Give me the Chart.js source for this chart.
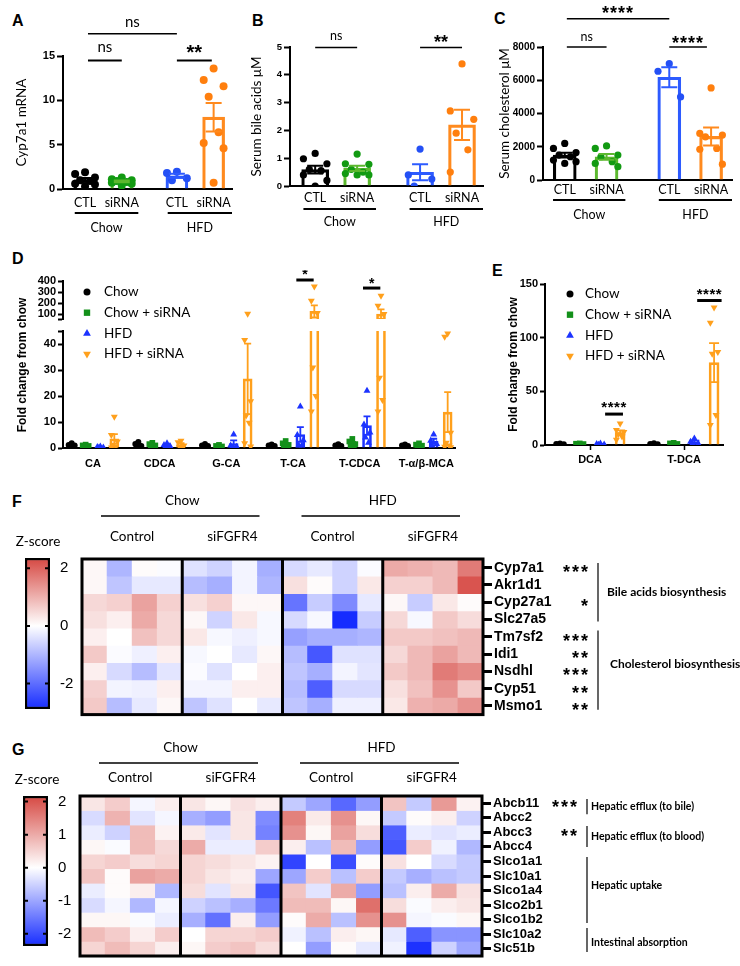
<!DOCTYPE html>
<html>
<head>
<meta charset="utf-8">
<script src="https://cdn.jsdelivr.net/npm/chart.js@4.4.0/dist/chart.umd.min.js"></script>
<style>
  body { margin: 0; background: #fff; width: 740px; height: 966px; position: relative; overflow: hidden; }
  canvas { position: absolute; }
  .pl { position: absolute; font: bold 16px "Liberation Sans", Arial, sans-serif; line-height: 16px; color: #000; }
</style>
</head>
<body>
<div class="pl" style="left:12px;top:13px">A</div>
<div class="pl" style="left:252px;top:13px">B</div>
<div class="pl" style="left:494px;top:11px">C</div>
<div class="pl" style="left:12px;top:251px">D</div>
<div class="pl" style="left:492px;top:263px">E</div>
<div class="pl" style="left:12px;top:494px">F</div>
<div class="pl" style="left:12px;top:742px">G</div>

<canvas id="cA" width="240" height="240" style="left:0;top:0"></canvas>
<canvas id="cB" width="250" height="240" style="left:240px;top:0"></canvas>
<canvas id="cC" width="260" height="240" style="left:480px;top:0"></canvas>
<canvas id="cDlow" width="480" height="210" style="left:0;top:270px"></canvas>
<canvas id="cDup" width="480" height="60" style="left:0;top:270px"></canvas>
<canvas id="cE" width="250" height="210" style="left:490px;top:270px"></canvas>
<canvas id="cF" width="740" height="245" style="left:0;top:480px"></canvas>
<canvas id="cFbar" width="90" height="200" style="left:0;top:528px"></canvas>
<canvas id="cG" width="740" height="241" style="left:0;top:725px"></canvas>
<canvas id="cGbar" width="90" height="200" style="left:0;top:765px"></canvas>

<script>
// Panels A-C: Gruppen und Einzelwerte
const treatLabels = ['CTL', 'siRNA', 'CTL', 'siRNA'];
const dietLabels = ['Chow', 'HFD'];
const cyp7a1 = [
  [1.9, 1.7, 1.3, 1.0, 0.9, 0.6, 0.5, 0.3],
  [1.3, 1.1, 1.0, 0.9, 0.8, 0.7, 0.6, 0.4],
  [1.95, 1.8, 1.2, 1.0],
  [13.6, 12.3, 11.6, 10.4, 6.4, 5.2, 4.6, 0.7]
];
const bileAcids = [
  [1.17, 0.98, 0.8, 0.6, 0.55, 0.4, 0.2, 0.0],
  [1.15, 0.8, 0.78, 0.6, 0.5, 0.45, 0.4, 0.4],
  [1.33, 0.4, 0.25, 0.0],
  [4.39, 2.7, 2.4, 1.9, 1.3, 0.5]
];
const cholesterol = [
  [2200, 1900, 1650, 1500, 1400, 1200, 1100, 1000],
  [2050, 1900, 1500, 1400, 1100, 1000, 800],
  [7000, 6540, 5000],
  [5540, 2800, 2700, 2600, 1900, 1850, 950]
];

// Panels D-E: Gallensäuren
const seriesNames = ['Chow', 'Chow + siRNA', 'HFD', 'HFD + siRNA'];
const baCategories = ['CA', 'CDCA', 'G-CA', 'T-CA', 'T-CDCA', 'T-α/β-MCA'];
const dChow = [[1.8, 1.2, 1.0, 0.6, 0.4], [2.3, 1.5, 0.8, 0.5, 0.3], [1.5, 1.0, 0.8, 0.6], [1.3, 1.0, 0.8, 0.6], [1.4, 1.0, 0.8, 0.6], [1.3, 1.0, 0.8, 0.7]];
const dChowSi = [[1.3, 1.0, 0.8, 0.7], [2.0, 1.5, 1.0, 0.8], [1.2, 0.8, 0.6, 0.4], [2.7, 1.8, 1.2, 0.6, 0.3], [3.5, 2.5, 1.5, 0.8, 0.4], [1.8, 1.3, 0.9, 0.6]];
const dHfd = [[0.6, 0.4, 0.2, 0.1], [1.8, 1.2, 0.8, 0.5], [5.2, 1.0, 0.5, 0.2], [16, 5, 3, 1, 1], [22, 9, 6, 4, 2], [5.2, 2.8, 1.5, 1.0]];
const dHfdSi = [[12, 5, 2.5, 1, 0.5, 0.2], [2.8, 2.2, 1, 0.5, 0.3], [102, 41.5, 18, 12.5, 9.7, 1.8, 0.6], [350, 220, 110, 31, 20, 14], [265, 175, 100, 27, 18.5, 14], [44, 42.8, 5.9, 2, 1, 0.5, 0.3]];
const secCategories = ['DCA', 'T-DCA'];
const eChow = [[1.5, 1.0, 0.8, 0.5], [1.6, 1.0, 0.7, 0.5]];
const eChowSi = [[1.5, 1.2, 0.9, 0.6], [2.0, 1.5, 1.0, 0.6]];
const eHfd = [[1.5, 0.9, 0.5, 0.3], [6, 3, 1.5, 1]];
const eHfdSi = [[20, 14, 12, 10, 8, 5], [128, 114, 86.6, 85, 28, 18.6]];

// Panels F-G: Heatmaps (Z-Scores)
const treatGroups = ['Control', 'siFGFR4'];
const fGenes = ['Cyp7a1', 'Akr1d1', 'Cyp27a1', 'Slc27a5', 'Tm7sf2', 'Idi1', 'Nsdhl', 'Cyp51', 'Msmo1'];
const fStars = ['***', '', '*', '', '***', '**', '***', '**', '**'];
const fPathways = ['Bile acids biosynthesis', 'Cholesterol biosynthesis'];
const fZ = [
  [0.1, -1.0, 0.05, -0.05, -0.4, -0.6, -0.15, -1.1, -0.5, -0.3, -0.6, -0.05, 1.1, 1.0, 0.9, 1.7],
  [0.1, -0.8, -0.3, -0.3, -0.9, -1.1, -0.15, -1.0, 0.4, 0.05, -0.6, 0.3, 0.6, 0.6, 0.9, 2.2],
  [0.5, 0.6, 1.2, 0.6, 0.4, 0.6, 0.1, 0.1, -1.9, -0.7, -1.6, -0.3, 0.1, -0.7, 0.3, 0.05],
  [0.4, 0.2, 1.1, 0.5, 0.1, -0.6, 0.3, -0.1, -0.5, -0.1, -2.9, -0.7, 0.5, -0.1, 0.7, 0.45],
  [0.2, 0.0, 0.8, 0.5, 0.3, -0.1, -0.2, -0.1, -1.3, -1.1, -1.1, -1.0, 0.7, 0.7, 0.8, 0.9],
  [0.7, -0.05, -0.2, 0.2, -0.1, 0.0, -0.3, 0.1, -0.9, -2.3, -0.4, -0.4, 0.5, 0.9, 1.2, 0.9],
  [0.2, -0.5, -0.9, -0.35, -0.05, -0.4, 0.0, 0.2, -0.8, -1.1, -0.15, -0.35, 0.7, 0.9, 1.7, 1.5],
  [0.6, -0.15, -0.2, 0.2, -0.15, -0.15, 0.2, 0.2, -0.9, -2.2, -0.5, -0.5, 0.4, 0.8, 1.4, 0.7],
  [0.7, -0.9, -0.3, 0.1, -0.8, -0.4, 0.0, -0.3, -0.8, -1.1, -0.2, -0.2, 0.3, 1.0, 1.1, 1.4]
];
const fRange = [-2.89, 2.36];
const fBarTicks = [2, 0, -2];
const gGenes = ['Abcb11', 'Abcc2', 'Abcc3', 'Abcc4', 'Slco1a1', 'Slc10a1', 'Slco1a4', 'Slco2b1', 'Slco1b2', 'Slc10a2', 'Slc51b'];
const gStars = ['***', '', '**', '', '', '', '', '', '', '', ''];
const gPathways = ['Hepatic efflux (to bile)', 'Hepatic efflux (to blood)', 'Hepatic uptake', 'Intestinal absorption'];
const gZ = [
  [0.3, 0.6, -0.1, 0.2, 0.3, 0.1, 0.35, 0.2, -0.6, -1.0, -1.7, -1.1, 0.7, -0.6, 1.2, 0.15],
  [-0.4, 0.9, -0.3, -0.1, -0.9, -1.1, 0.3, -1.3, 1.5, 0.25, 1.3, 0.1, -0.6, 0.05, 0.2, -0.5],
  [-0.2, -0.5, 0.8, 0.15, 0.25, -0.3, 0.3, -1.4, 1.3, 0.1, 1.1, 0.4, -1.8, -0.2, -0.3, -0.2],
  [0.1, -0.05, 0.8, 0.45, 1.0, -0.2, -0.2, 0.6, 0.2, -0.7, 0.8, -1.1, -1.9, 0.6, -0.15, -0.8],
  [0.5, 0.6, 0.4, 0.5, 0.5, 0.4, 0.3, 0.15, -2.1, 0.0, -2.0, 0.05, 0.35, 0.0, -0.4, -0.6],
  [0.7, 0.05, 1.1, 1.0, 0.5, 0.3, 0.2, -1.0, -1.0, 0.6, -0.7, 0.6, -0.6, -0.9, -0.7, -0.6],
  [-0.2, 0.05, 0.2, -0.8, 0.4, -0.3, 0.3, -1.9, 0.7, -0.3, 1.0, -1.1, -0.7, 0.2, 1.0, 0.35],
  [-0.4, -0.1, -0.8, -0.1, -0.5, -0.7, -0.9, -1.5, 0.8, 0.8, 0.1, 1.7, 0.4, -0.05, 0.2, 0.3],
  [0.1, 0.1, -0.05, -0.2, -0.9, -1.6, 0.2, -1.1, 0.05, 1.0, -0.7, 1.3, 1.3, -0.1, -0.05, 0.1],
  [0.8, 0.6, 0.2, 0.6, 0.0, 0.5, 0.5, 0.6, -0.15, -0.7, 0.2, 0.1, -0.25, -1.8, -1.2, -1.2],
  [0.5, 0.8, 0.5, 0.2, 0.1, 0.6, 0.7, 0.4, 0.0, -1.1, 0.05, -0.25, -0.15, -2.3, -0.5, -1.0]
];
const gRange = [-2.37, 2.17];
const gBarTicks = [2, 1, 0, -1, -2];

// Farben und Formen
const dotColors = ['#000000', '#129a12', '#2450f5', '#ff7f0e'];
const barEdges = ['#000000', '#5cb82e', '#2d5bff', '#ff8a1e'];
const seriesColors = ['#000000', '#13901a', '#1c33ff', '#ffa01c'];
const seriesShapes = ['circle', 'rect', 'triangle', 'triangle'];
const seriesRot = [0, 0, 0, 180];
const seriesRadius = [3.5, 4.5, 4.5, 4.5];

const LATO = 'Lato, "Open Sans", sans-serif';
const ARIAL = '"Liberation Sans", Arial, sans-serif';
Chart.defaults.color = '#000';
Chart.defaults.font.family = LATO;

const mean = a => a.reduce((s, v) => s + v, 0) / a.length;
const sem = a => { const m = mean(a); return Math.sqrt(a.reduce((s, v) => s + (v - m) ** 2, 0) / (a.length - 1) / a.length); };
const jitterPattern = [0, -1, 1, -0.5, 0.5, -1, 1, 0];
const jit = i => jitterPattern[i % jitterPattern.length];

// Fehlerbalken (SEM) über die Skalen der Charts
const errorBars = {
  id: 'errorBars',
  afterDatasetsDraw(chart, args, o) {
    const { ctx, chartArea: a, scales: { x, y } } = chart;
    ctx.save();
    ctx.beginPath(); ctx.rect(a.left - 10, a.top, a.right - a.left + 20, a.bottom - a.top); ctx.clip();
    chart.data.datasets.forEach(ds => {
      if (!ds.sem) return;
      ds.data.forEach((d, i) => {
        const col = Array.isArray(ds.borderColor) ? ds.borderColor[i] : ds.borderColor;
        const px = x.getPixelForValue(d.x);
        const top = y.getPixelForValue(d.y + ds.sem[i]);
        const bot = y.getPixelForValue(d.y - ds.sem[i]);
        ctx.strokeStyle = col; ctx.lineWidth = o.lw;
        ctx.beginPath();
        ctx.moveTo(px, top); ctx.lineTo(px, bot);
        ctx.moveTo(px - o.cap, top); ctx.lineTo(px + o.cap, top);
        ctx.moveTo(px - o.cap, bot); ctx.lineTo(px + o.cap, bot);
        ctx.stroke();
      });
    });
    ctx.restore();
  }
};

// Signifikanz-Linien mit Text
const sigMarks = {
  id: 'sigMarks',
  afterDraw(chart, args, o) {
    const { ctx, scales: { x, y } } = chart;
    ctx.save();
    (o.marks || []).forEach(m => {
      const x1 = x.getPixelForValue(m.x1), x2 = x.getPixelForValue(m.x2), py = y.getPixelForValue(m.y);
      ctx.strokeStyle = '#000'; ctx.lineWidth = m.lw || 2;
      ctx.beginPath(); ctx.moveTo(x1, py); ctx.lineTo(x2, py); ctx.stroke();
      ctx.fillStyle = '#000'; ctx.font = m.font; ctx.textAlign = 'center'; ctx.textBaseline = 'alphabetic';
      ctx.letterSpacing = m.ls || '0px';
      ctx.fillText(m.text, (x1 + x2) / 2, py - m.dy);
    });
    ctx.restore();
  }
};

// Chow / HFD unter der x-Achse
const groupAxis = {
  id: 'groupAxis',
  afterDraw(chart, args, o) {
    if (!o.spans) return;
    const { ctx, chartArea: a, scales: { x } } = chart;
    ctx.save();
    ctx.strokeStyle = '#000'; ctx.lineWidth = 2; ctx.fillStyle = '#000';
    ctx.font = o.font; ctx.textAlign = 'center'; ctx.textBaseline = 'middle';
    o.spans.forEach((s, i) => {
      const l = x.getPixelForValue(s[0]), r = x.getPixelForValue(s[1]);
      ctx.beginPath(); ctx.moveTo(l, a.bottom + o.lineDy); ctx.lineTo(r, a.bottom + o.lineDy); ctx.stroke();
      ctx.fillText(dietLabels[i], (l + r) / 2, a.bottom + o.textDy);
    });
    ctx.restore();
  }
};

// Freie Texte (Achsentitel, Z-score)
const freeText = {
  id: 'freeText',
  afterDraw(chart, args, o) {
    const ctx = chart.ctx;
    (o.items || []).forEach(t => {
      ctx.save();
      ctx.translate(t.x, t.y);
      if (t.rot) ctx.rotate(t.rot);
      ctx.font = t.font; ctx.fillStyle = '#000'; ctx.textAlign = 'center'; ctx.textBaseline = 'middle';
      ctx.fillText(t.text, 0, 0);
      ctx.restore();
    });
  }
};

// Legende mit Punktsymbolen
const dotLegend = {
  id: 'dotLegend',
  afterDraw(chart, args, o) {
    if (o.x === undefined) return;
    const ctx = chart.ctx;
    ctx.save();
    seriesNames.forEach((name, i) => {
      const y = o.y + i * o.gap;
      ctx.fillStyle = seriesColors[i]; ctx.strokeStyle = seriesColors[i];
      Chart.helpers.drawPoint(ctx, { pointStyle: seriesShapes[i], rotation: seriesRot[i], radius: seriesRadius[i], borderWidth: 0 }, o.x, y);
      ctx.fillStyle = '#000'; ctx.font = o.font; ctx.textAlign = 'left'; ctx.textBaseline = 'middle';
      ctx.fillText(name, o.x + o.textGap, y);
    });
    ctx.restore();
  }
};

function yAxisStyle(size) {
  return {
    grid: { drawOnChartArea: false, tickLength: 6, tickWidth: 2, tickColor: '#000' },
    border: { color: '#000', width: 2 },
    ticks: { font: { family: ARIAL, size: size, weight: 'bold' }, color: '#000', padding: 2, autoSkip: false, callback: v => String(v) }
  };
}

// Balken + Einzelpunkte (A-C)
const xPos = [0, 1, 2.5, 3.5];
function dotBar(id, pts, cfg) {
  const datasets = [{
    type: 'bar',
    data: xPos.map((x, i) => ({ x, y: mean(pts[i]) })),
    sem: pts.map(sem),
    backgroundColor: 'rgba(255,255,255,0)', borderColor: barEdges, borderWidth: 2.5,
    barThickness: cfg.barW, grouped: false, order: 2
  }];
  pts.forEach((p, g) => datasets.push({
    type: 'scatter',
    data: p.map((v, i) => ({ x: xPos[g] + jit(i) * cfg.spread, y: v })),
    pointRadius: cfg.r, backgroundColor: dotColors[g], borderColor: dotColors[g], borderWidth: 0, order: 1
  }));
  const ys = yAxisStyle(cfg.tick);
  return new Chart(document.getElementById(id), {
    type: 'bar',
    data: { datasets },
    options: {
      responsive: false, animation: false, events: [],
      layout: { padding: cfg.pad },
      plugins: {
        legend: { display: false }, tooltip: { enabled: false },
        errorBars: { lw: 2, cap: 8 },
        sigMarks: { marks: cfg.sig },
        groupAxis: { spans: [[-0.28, 1.45], [2.25, 4.0]], lineDy: cfg.lineDy, textDy: cfg.textDy, font: '12.5px ' + LATO }
      },
      scales: {
        x: {
          type: 'linear', min: cfg.xMin, max: 4.0, offset: false,
          grid: { display: false, drawTicks: false }, border: { color: '#000', width: 2 },
          afterBuildTicks: ax => { ax.ticks = xPos.map(v => ({ value: v })); },
          ticks: { callback: (v, i) => treatLabels[i], font: { family: LATO, size: 12.5 }, color: '#000', padding: cfg.xPad, autoSkip: false, maxRotation: 0 },
          afterFit: ax => { ax.height = cfg.xh; }
        },
        y: {
          min: 0, max: cfg.yMax,
          grid: ys.grid, border: ys.border,
          ticks: Object.assign({}, ys.ticks, { stepSize: cfg.yStep }),
          title: { display: true, text: cfg.title, font: { family: LATO, size: 13.5 }, color: '#000', padding: { top: cfg.titlePad, bottom: 0 } },
          afterFit: ax => { ax.width = cfg.yw; }
        }
      }
    },
    plugins: [errorBars, sigMarks, groupAxis]
  });
}

dotBar('cA', cyp7a1, {
  barW: 22, r: 4, spread: 0.27, tick: 11, yMax: 15, yStep: 5, xMin: -0.6, xPad: 6, xh: 51, yw: 63,
  pad: { left: 0, top: 56, right: 8, bottom: 0 }, titlePad: 14, title: 'Cyp7a1 mRNA', lineDy: 24, textDy: 39,
  sig: [
    { x1: 0.08, x2: 2.5, y: 17.5, text: 'ns', font: '15px ' + LATO, dy: 7, lw: 1.5 },
    { x1: 0.08, x2: 1.0, y: 14.5, text: 'ns', font: '15px ' + LATO, dy: 8, lw: 2 },
    { x1: 2.5, x2: 3.45, y: 14.5, text: '**', font: 'bold 20px ' + ARIAL, dy: 1, lw: 2 }
  ]
});
dotBar('cB', bileAcids, {
  barW: 27, r: 3.6, spread: 0.28, tick: 9.5, yMax: 5, yStep: 1, xMin: -0.6, xPad: 4, xh: 54, yw: 50,
  pad: { left: 0, top: 47, right: 7, bottom: 0 }, titlePad: 9, title: 'Serum bile acids μM', lineDy: 23, textDy: 36,
  sig: [
    { x1: 0.0, x2: 1.0, y: 4.98, text: 'ns', font: '12.5px ' + LATO, dy: 8, lw: 1.5 },
    { x1: 2.5, x2: 3.5, y: 4.98, text: '**', font: 'bold 18px ' + ARIAL, dy: 0, lw: 1.5 }
  ]
});
dotBar('cC', cholesterol, {
  barW: 23, r: 3.6, spread: 0.27, tick: 10, yMax: 8000, yStep: 2000, xMin: -0.52, xPad: 2, xh: 60, yw: 63,
  pad: { left: 0, top: 47, right: 8, bottom: 0 }, titlePad: 17, title: 'Serum cholesterol μM', lineDy: 20, textDy: 35,
  sig: [
    { x1: 0.05, x2: 2.5, y: 9700, text: '****', font: 'bold 18px ' + ARIAL, dy: 0, lw: 1.5, ls: '1px' },
    { x1: 0.05, x2: 1.0, y: 8000, text: 'ns', font: '12.5px ' + LATO, dy: 6, lw: 1.5 },
    { x1: 2.5, x2: 3.4, y: 8000, text: '****', font: 'bold 18px ' + ARIAL, dy: -2, lw: 1.5, ls: '1px' }
  ]
});

// Gruppierte Balken mit Symbolen (D-E); Punkte nur im eigenen Achsenabschnitt
const seriesOffsets = [-0.32, -0.11, 0.11, 0.32];
function seriesDatasets(series, cfg) {
  const ds = [];
  series.forEach((s, k) => {
    ds.push({
      type: 'bar',
      data: s.map((p, c) => ({ x: c + seriesOffsets[k], y: mean(p) })),
      sem: s.map(sem),
      backgroundColor: 'rgba(255,255,255,0)', borderColor: seriesColors[k], borderWidth: 2,
      barThickness: cfg.barW, grouped: false, clip: 0, order: 2
    });
    ds.push({
      type: 'scatter',
      data: s.flatMap((p, c) => p.map((v, i) => ({ x: c + seriesOffsets[k] + jit(i) * cfg.spread, y: v })))
        .filter(d => d.y >= cfg.yMin && d.y <= cfg.yMax),
      pointStyle: seriesShapes[k], rotation: seriesRot[k], pointRadius: seriesRadius[k] - 0.5,
      backgroundColor: seriesColors[k], borderColor: seriesColors[k], borderWidth: 0, order: 1
    });
  });
  return ds;
}

function baChart(id, series, cats, cfg) {
  const ys = yAxisStyle(11);
  return new Chart(document.getElementById(id), {
    type: 'bar',
    data: { datasets: seriesDatasets(series, cfg) },
    options: {
      responsive: false, animation: false, events: [],
      layout: { padding: cfg.pad },
      plugins: {
        legend: { display: false }, tooltip: { enabled: false },
        errorBars: { lw: 1.8, cap: cfg.cap },
        sigMarks: { marks: cfg.sig || [] },
        dotLegend: cfg.legend || {},
        freeText: { items: cfg.texts || [] }
      },
      scales: {
        x: {
          type: 'linear', min: cfg.xMin, max: cfg.xMax, offset: false, display: cfg.showX,
          grid: cfg.xTicks ? { display: true, offset: false, drawOnChartArea: false, tickLength: 5, tickWidth: 1.5, tickColor: '#000' } : { display: false, drawTicks: false },
          border: { color: '#000', width: 2 },
          afterBuildTicks: ax => { ax.ticks = cats.map((c, i) => ({ value: i })); },
          ticks: { callback: (v, i) => cats[i], font: { family: ARIAL, size: 11, weight: 'bold' }, color: '#000', padding: cfg.xPad, autoSkip: false, maxRotation: 0 },
          afterFit: ax => { ax.height = cfg.xh; }
        },
        y: {
          min: cfg.yMin, max: cfg.yMax,
          grid: Object.assign({}, ys.grid, { tickLength: 5 }), border: ys.border,
          afterBuildTicks: ax => { ax.ticks = cfg.yTicks.map(v => ({ value: v })); },
          ticks: Object.assign({}, ys.ticks, { callback: v => (cfg.yBlank === v ? '' : String(v)) }),
          title: cfg.yTitle ? { display: true, text: cfg.yTitle, font: { family: ARIAL, size: 12, weight: 'bold' }, color: '#000', padding: { top: cfg.titlePad, bottom: 0 } } : { display: false },
          afterFit: ax => { ax.width = cfg.yw; }
        }
      }
    },
    plugins: [errorBars, sigMarks, dotLegend, freeText]
  });
}

const dSeries = [dChow, dChowSi, dHfd, dHfdSi];
baChart('cDlow', dSeries, baCategories, {
  barW: 9, spread: 0.045, cap: 3.5, xMin: -0.45, xMax: 5.43, showX: true, xTicks: false, xPad: 9, xh: 32,
  yMin: 0, yMax: 45, yTicks: [0, 10, 20, 30, 40, 45], yBlank: 45, yw: 63,
  pad: { left: 0, top: 61, right: 25, bottom: 0 },
  legend: { x: 87, y: 22, gap: 20.7, textGap: 17, font: '13.5px ' + LATO },
  texts: [{ text: 'Fold change from chow', x: 23, y: 95, rot: -Math.PI / 2, font: 'bold 12px ' + ARIAL }]
});
baChart('cDup', dSeries, baCategories, {
  barW: 9, spread: 0.045, cap: 3.5, xMin: -0.45, xMax: 5.43, showX: false, xTicks: false, xPad: 0, xh: 0,
  yMin: 55, yMax: 400, yTicks: [55, 100, 200, 300, 400], yBlank: 55, yw: 63,
  pad: { left: 0, top: 11, right: 25, bottom: 11 },
  sig: [
    { x1: 3.05, x2: 3.31, y: 409, text: '*', font: 'bold 14px ' + ARIAL, dy: 1, lw: 3 },
    { x1: 4.05, x2: 4.31, y: 336, text: '*', font: 'bold 14px ' + ARIAL, dy: 0, lw: 3 }
  ]
});
baChart('cE', [eChow, eChowSi, eHfd, eHfdSi], secCategories, {
  barW: 10, spread: 0.04, cap: 5, xMin: -0.48, xMax: 1.415, showX: true, xTicks: true, xPad: 3, xh: 35,
  yMin: 0, yMax: 150, yTicks: [0, 50, 100, 150], yw: 55, yTitle: 'Fold change from chow', titlePad: 16,
  pad: { left: 0, top: 14, right: 17, bottom: 0 },
  legend: { x: 80, y: 24, gap: 20.7, textGap: 15, font: '13.5px ' + LATO },
  sig: [
    { x1: 0.16, x2: 0.35, y: 28.8, text: '****', font: 'bold 15px ' + ARIAL, dy: 2, lw: 3, ls: '0.5px' },
    { x1: 1.14, x2: 1.4, y: 134.6, text: '****', font: 'bold 15px ' + ARIAL, dy: 2, lw: 3, ls: '0.5px' }
  ]
});

// Heatmaps: Farbskala blau - weiß - rot
const blueEnd = [22, 44, 255], redEnd = [214, 72, 66], mid = [255, 255, 255];
function zColor(v, lo, hi) {
  const t = v >= 0 ? Math.min(1, v / hi) : Math.min(1, v / lo);
  const end = v >= 0 ? redEnd : blueEnd;
  const c = mid.map((m, i) => Math.round(m + (end[i] - m) * t));
  return `rgb(${c[0]},${c[1]},${c[2]})`;
}
function zGradient(chart, lo, hi) {
  const a = chart.chartArea;
  if (!a) return '#fff';
  const g = chart.ctx.createLinearGradient(0, a.bottom, 0, a.top);
  g.addColorStop(0, zColor(lo, lo, hi));
  g.addColorStop((0 - lo) / (hi - lo), zColor(0, lo, hi));
  g.addColorStop(1, zColor(hi, lo, hi));
  return g;
}

const heatDecor = {
  id: 'heatDecor',
  afterDatasetsDraw(chart, args, o) {
    const { ctx, chartArea: a, scales: { x, y } } = chart;
    const n = chart.data.labels.length;
    const edge = i => i === 0 ? a.left : i === n ? a.right : (x.getPixelForValue(i - 1) + x.getPixelForValue(i)) / 2;
    ctx.save();
    ctx.strokeStyle = '#000'; ctx.lineWidth = 3;
    ctx.strokeRect(a.left, a.top, a.right - a.left, a.bottom - a.top);
    ctx.beginPath();
    for (let k = 4; k < n; k += 4) { const px = edge(k); ctx.moveTo(px, a.top); ctx.lineTo(px, a.bottom); }
    ctx.stroke();
    // Kopfzeilen
    ctx.fillStyle = '#000'; ctx.textAlign = 'center'; ctx.textBaseline = 'middle';
    ctx.font = '13.5px ' + LATO; ctx.lineWidth = 1.5;
    dietLabels.forEach((d, j) => {
      const l = edge(j * 8), r = edge(j * 8 + 8);
      ctx.fillText(d, (l + r) / 2, a.top + o.headY);
      ctx.beginPath(); ctx.moveTo(l + 19, a.top + o.lineY); ctx.lineTo(r - 23, a.top + o.lineY); ctx.stroke();
    });
    for (let j = 0; j < n / 4; j++) {
      const l = edge(j * 4), r = edge(j * 4 + 4);
      ctx.fillText(treatGroups[j % 2], (l + r) / 2, a.top + o.subY);
    }
    // Sterne
    ctx.font = 'bold 18px ' + ARIAL; ctx.textAlign = 'right'; ctx.textBaseline = 'alphabetic'; ctx.letterSpacing = '2px';
    o.stars.forEach((s, r) => { if (s) ctx.fillText(s, o.starX, y.getPixelForValue(r + 0.5) + 10); });
    ctx.letterSpacing = '0px';
    // Stoffwechselwege
    ctx.lineWidth = 1.2; ctx.textAlign = 'left'; ctx.textBaseline = 'middle'; ctx.font = o.pathFont;
    o.paths.forEach((p, i) => {
      const y1 = y.getPixelForValue(p.from), y2 = y.getPixelForValue(p.to);
      ctx.beginPath(); ctx.moveTo(o.bx, y1); ctx.lineTo(o.bx, y2); ctx.stroke();
      ctx.fillText(o.names[i], o.tx + (p.dx || 0), (y1 + y2) / 2 + (p.dy || 0));
    });
    ctx.restore();
  }
};

function heatmap(id, genes, z, lo, hi, cfg) {
  const datasets = genes.map((g, r) => ({
    label: g,
    data: z[r].map(() => 1),
    backgroundColor: z[r].map(v => zColor(v, lo, hi)),
    borderWidth: 0, barPercentage: 1, categoryPercentage: 1
  }));
  return new Chart(document.getElementById(id), {
    type: 'bar',
    data: { labels: z[0].map((_, i) => 'S' + (i + 1)), datasets },
    options: {
      responsive: false, animation: false, events: [],
      layout: { padding: cfg.pad },
      plugins: { legend: { display: false }, tooltip: { enabled: false }, heatDecor: cfg.decor },
      scales: {
        x: { display: false, stacked: true },
        y: {
          stacked: true, reverse: true, min: 0, max: genes.length, position: 'right',
          grid: { drawOnChartArea: false, tickLength: 9, tickWidth: 3, tickColor: '#000' },
          border: { display: false },
          afterBuildTicks: ax => { ax.ticks = genes.map((g, i) => ({ value: i + 0.5 })); },
          ticks: { callback: (v, i) => genes[i], font: { family: ARIAL, size: cfg.geneSize, weight: 'bold' }, color: '#000', padding: 2, autoSkip: false },
          afterFit: ax => { ax.width = cfg.yw; }
        }
      }
    },
    plugins: [heatDecor]
  });
}

const barTicks = {
  id: 'barTicks',
  afterDatasetsDraw(chart, args, o) {
    const { ctx, chartArea: a, scales: { y } } = chart;
    ctx.save(); ctx.strokeStyle = '#000'; ctx.lineWidth = 2;
    ctx.beginPath();
    o.ticks.forEach(v => {
      const py = y.getPixelForValue(v);
      ctx.moveTo(a.left, py); ctx.lineTo(a.left + 5, py);
      ctx.moveTo(a.right - 5, py); ctx.lineTo(a.right, py);
    });
    ctx.stroke(); ctx.restore();
  }
};

function colorBar(id, range, ticks, cfg) {
  const [lo, hi] = range;
  return new Chart(document.getElementById(id), {
    type: 'bar',
    data: { labels: [''], datasets: [{ data: [[lo, hi]], backgroundColor: c => zGradient(c.chart, lo, hi), borderColor: '#000', borderWidth: 2.5, borderSkipped: false, barPercentage: 1, categoryPercentage: 1 }] },
    options: {
      responsive: false, animation: false, events: [],
      layout: { padding: cfg.pad },
      plugins: { legend: { display: false }, tooltip: { enabled: false }, barTicks: { ticks }, freeText: { items: [{ text: 'Z-score', x: cfg.zx, y: cfg.zy, font: '13.5px ' + LATO }] } },
      scales: {
        x: { display: false },
        y: {
          position: 'right', min: lo, max: hi,
          grid: { display: false, drawTicks: false }, border: { display: false },
          afterBuildTicks: ax => { ax.ticks = ticks.map(v => ({ value: v })); },
          ticks: { font: { family: ARIAL, size: 15 }, color: '#000', padding: 10, callback: v => String(v) },
          afterFit: ax => { ax.width = cfg.yw; }
        }
      }
    },
    plugins: [barTicks, freeText]
  });
}

heatmap('cF', fGenes, fZ, fRange[0], fRange[1], {
  pad: { left: 82, top: 79, right: 0, bottom: 7 }, yw: 257, geneSize: 14,
  decor: {
    headY: -58, lineY: -43, subY: -22, stars: fStars, starX: 590,
    bx: 598, tx: 607, pathFont: 'bold 12px ' + LATO, names: fPathways,
    paths: [{ from: 0.23, to: 3.62 }, { from: 4.13, to: 8.72, dx: 3, dy: -6 }]
  }
});
colorBar('cFbar', fRange, fBarTicks, { pad: { left: 25, top: 30, right: 0, bottom: 10 }, yw: 40, zx: 38, zy: 14 });

heatmap('cG', gGenes, gZ, gRange[0], gRange[1], {
  pad: { left: 80, top: 71, right: 0, bottom: 10 }, yw: 258, geneSize: 13,
  decor: {
    headY: -48, lineY: -33, subY: -18, stars: gStars, starX: 579,
    bx: 587, tx: 591, pathFont: 'bold 10.5px ' + LATO, names: gPathways,
    paths: [{ from: 0.2, to: 1.25 }, { from: 2.06, to: 3.5 }, { from: 4.2, to: 8.73, dy: -4 }, { from: 9.07, to: 10.72, dy: 3 }]
  }
});
colorBar('cGbar', gRange, gBarTicks, { pad: { left: 23, top: 31, right: 0, bottom: 10 }, yw: 42, zx: 37, zy: 15 });
</script>
</body>
</html>
